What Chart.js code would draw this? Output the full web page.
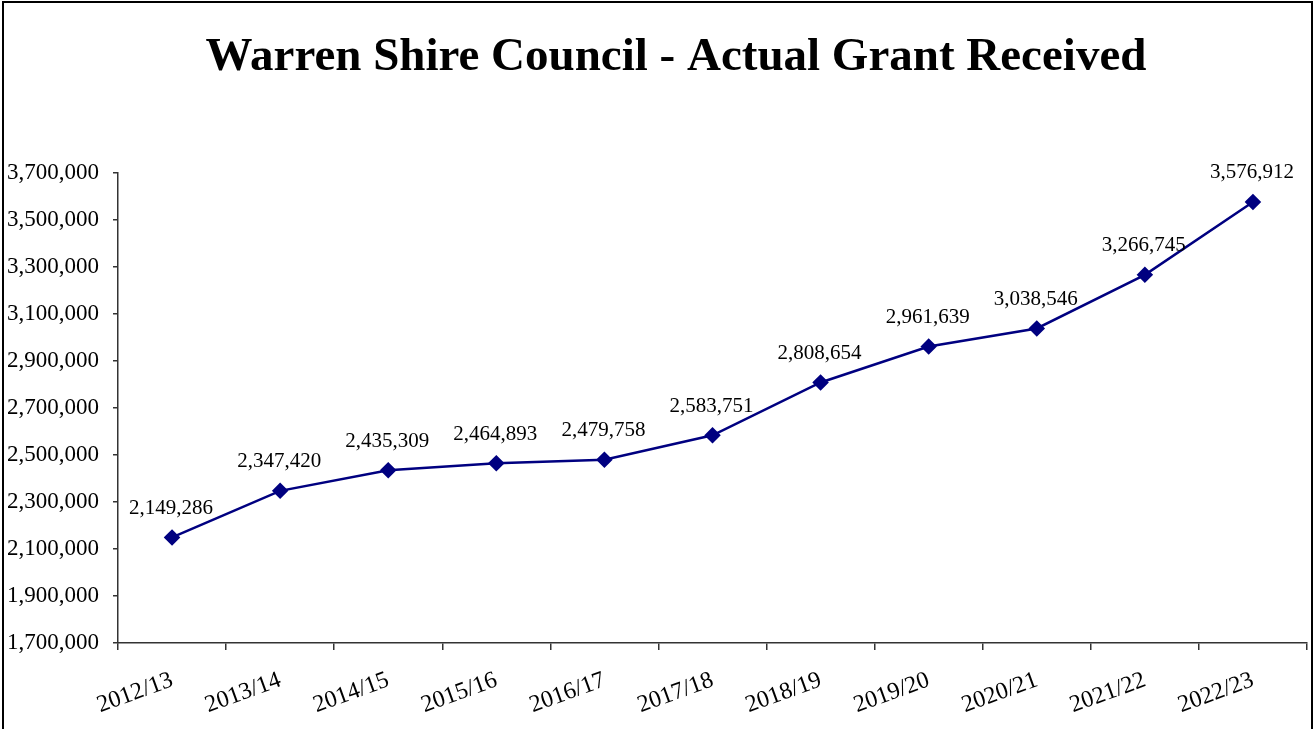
<!DOCTYPE html>
<html>
<head>
<meta charset="utf-8">
<script src="https://cdn.jsdelivr.net/npm/chart.js@4.4.0/dist/chart.umd.min.js"></script>
<style>
html,body{margin:0;padding:0;background:#fff;}
#wrap{width:1316px;height:729px;position:relative;}
canvas{display:block;}
</style>
</head>
<body>
<div id="wrap"><canvas id="c" width="1316" height="729"></canvas></div>
<script>
const titleText = "Warren Shire Council - Actual Grant Received";
const categories = ["2012/13","2013/14","2014/15","2015/16","2016/17","2017/18","2018/19","2019/20","2020/21","2021/22","2022/23"];
const grantValues = [2149286, 2347420, 2435309, 2464893, 2479758, 2583751, 2808654, 2961639, 3038546, 3266745, 3576912];
const yMin = 1700000;
const yMax = 3700000;
const yStep = 200000;

const SERIF = '"Liberation Serif", "Times New Roman", serif';
const fmt = v => Number(v).toLocaleString('en-US');

const framePlugin = {
  id: 'frame',
  beforeDraw(chart) {
    const ctx = chart.ctx;
    ctx.save();
    ctx.fillStyle = '#fff';
    ctx.fillRect(0, 0, chart.width, chart.height);
    ctx.strokeStyle = '#000';
    ctx.lineWidth = 2;
    ctx.beginPath();
    ctx.moveTo(3, 740);
    ctx.lineTo(3, 2);
    ctx.lineTo(1312, 2);
    ctx.lineTo(1312, 740);
    ctx.stroke();
    ctx.restore();
  },
  afterDraw(chart) {
    const ctx = chart.ctx;
    ctx.save();
    ctx.fillStyle = '#000';
    ctx.font = 'bold 47px ' + SERIF;
    ctx.textAlign = 'center';
    ctx.textBaseline = 'middle';
    ctx.fillText(titleText, 676, 58);
    ctx.restore();
  }
};

const labelPlugin = {
  id: 'pointLabels',
  afterDatasetsDraw(chart) {
    const ctx = chart.ctx;
    const meta = chart.getDatasetMeta(0);
    const data = chart.data.datasets[0].data;
    ctx.save();
    ctx.fillStyle = '#000';
    ctx.font = '21px ' + SERIF;
    ctx.textAlign = 'center';
    ctx.textBaseline = 'middle';
    meta.data.forEach((pt, i) => {
      ctx.fillText(fmt(data[i]), pt.x - 1, pt.y - 29);
    });
    ctx.restore();
  }
};

new Chart(document.getElementById('c'), {
  type: 'line',
  data: {
    labels: categories,
    datasets: [{
      data: grantValues,
      borderColor: '#000080',
      backgroundColor: '#000080',
      borderWidth: 2.5,
      pointStyle: 'rectRot',
      pointRadius: 6.5,
      pointHoverRadius: 6.5,
      tension: 0,
      fill: false
    }]
  },
  options: {
    responsive: false,
    animation: false,
    events: [],
    layout: { padding: { top: 173, right: 8, left: 0, bottom: 0 } },
    plugins: {
      legend: { display: false },
      title: { display: false },
      tooltip: { enabled: false }
    },
    scales: {
      x: {
        offset: true,
        grid: {
          offset: true,
          drawOnChartArea: false,
          drawTicks: true,
          tickLength: 7,
          color: '#333',
          lineWidth: 1.5
        },
        border: { display: true, color: '#333', width: 1.5 },
        ticks: {
          autoSkip: false,
          minRotation: 20,
          maxRotation: 20,
          padding: 16,
          color: '#000',
          font: { family: SERIF, size: 24 }
        },
        afterFit(scale) { scale.height = 86; }
      },
      y: {
        min: yMin,
        max: yMax,
        grid: {
          drawOnChartArea: false,
          drawTicks: true,
          tickLength: 5,
          color: '#333',
          lineWidth: 1.5
        },
        border: { display: true, color: '#333', width: 1.5 },
        ticks: {
          stepSize: yStep,
          padding: 14,
          color: '#000',
          font: { family: SERIF, size: 23 },
          callback: v => fmt(v)
        },
        afterFit(scale) { scale.width = 118; }
      }
    }
  },
  plugins: [framePlugin, labelPlugin]
});
</script>
</body>
</html>
